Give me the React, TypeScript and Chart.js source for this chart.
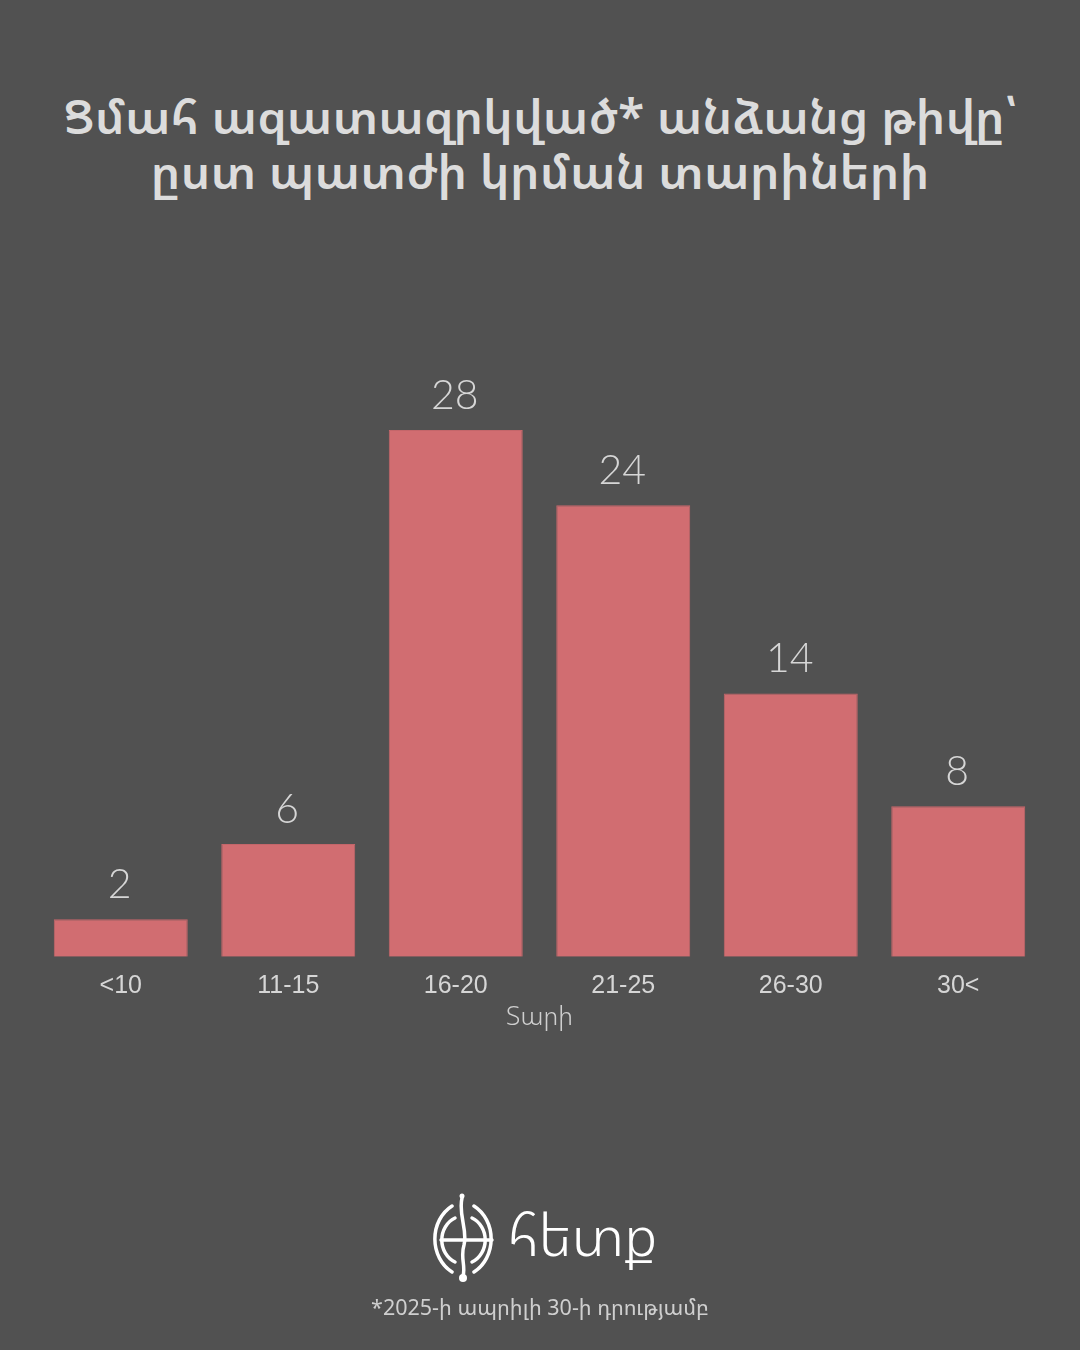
import React, { useEffect, useRef } from "react";
import { Chart, registerables } from "chart.js";

Chart.register(...registerables);

const categories = ["<10", "11-15", "16-20", "21-25", "26-30", "30<"];
const counts = [2, 6, 28, 24, 14, 8];
const titleLines = ["Ցմահ ազատազրկված* անձանց թիվը՝", "ըստ պատժի կրման տարիների"];
const axisTitle = "Տարի";
const footnote = "*2025-ի ապրիլի 30-ի դրությամբ";
const logoText = "հետք";

const BG = "#515151";
const BAR = "#d16d71";
const TEXT = "#d6d6d6";
const ARM_FONT = "'Noto Sans Armenian', 'DejaVu Sans', 'Noto Sans', sans-serif";

const valueLabels = {
  id: "valueLabels",
  afterDatasetsDraw(chart: any) {
    const { ctx } = chart;
    const meta = chart.getDatasetMeta(0);
    const data = chart.data.datasets[0].data;
    ctx.save();
    ctx.font = "300 41px Lato, 'Open Sans', sans-serif";
    ctx.fillStyle = TEXT;
    ctx.textAlign = "center";
    ctx.textBaseline = "alphabetic";
    meta.data.forEach((bar: any, i: number) => {
      ctx.fillText(String(data[i]), bar.x - 1, bar.y - 21);
    });
    ctx.restore();
  },
};

export default function App() {
  const ref = useRef<HTMLCanvasElement | null>(null);

  useEffect(() => {
    if (!ref.current) return;
    const chart = new Chart(ref.current, {
      type: "bar",
      data: {
        labels: categories,
        datasets: [
          {
            data: counts,
            backgroundColor: BAR,
            borderColor: "#c4666a",
            borderWidth: 1,
            barPercentage: 0.8,
            categoryPercentage: 1.0,
          },
        ],
      },
      options: {
        animation: false,
        responsive: true,
        maintainAspectRatio: false,
        devicePixelRatio: 1,
        layout: { padding: { top: 430, left: 37, right: 38, bottom: 317 } },
        plugins: {
          legend: { display: false },
          tooltip: { enabled: false },
          title: { display: false },
        },
        scales: {
          y: { display: false, min: 0, max: 28 },
          x: {
            grid: { display: false, drawTicks: false },
            border: { display: false },
            ticks: {
              color: TEXT,
              padding: 14,
              font: { family: "'Liberation Sans', Arial, sans-serif", size: 25 },
            },
            title: {
              display: true,
              text: axisTitle,
              color: "#cfcfcf",
              padding: { top: -13, bottom: 0 },
              font: { family: ARM_FONT, size: 26, weight: "300" as any },
            },
          },
        },
      },
      plugins: [valueLabels],
    });
    return () => chart.destroy();
  }, []);

  return (
    <div
      style={{
        position: "absolute",
        left: 0,
        top: 0,
        width: 1080,
        height: 1350,
        background: BG,
        overflow: "hidden",
      }}
    >
      <div
        style={{
          position: "absolute",
          left: 0,
          top: 88,
          width: 1080,
          textAlign: "center",
          color: "#dcdcdc",
          fontFamily: ARM_FONT,
          fontWeight: 600,
          fontSize: 48,
          lineHeight: "55px",
        }}
      >
        {titleLines.map((l, i) => (
          <div key={i}>{l}</div>
        ))}
      </div>
      <div style={{ position: "absolute", left: 0, top: 0, width: 1080, height: 1350 }}>
        <canvas ref={ref} />
      </div>
      <svg
        style={{ position: "absolute", left: 0, top: 0 }}
        width={1080}
        height={1350}
        viewBox="0 0 1080 1350"
      >
        <g fill="none" stroke="#ffffff" strokeWidth={3.5} strokeLinecap="round">
          <path d="M462 1198 C 458 1215, 468 1230, 464 1245 C 460 1258, 466 1266, 463 1276" />
          <path d="M441 1240 L 492 1240" />
          <path d="M452 1206 A 34 38 0 0 0 452 1272" />
          <path d="M474 1206 A 34 38 0 0 1 474 1272" />
          <path d="M455 1218 A 22 24 0 0 0 455 1262" />
          <path d="M472 1218 A 22 24 0 0 1 472 1262" />
        </g>
        <circle cx={462} cy={1196} r={2.5} fill="#ffffff" />
        <circle cx={463} cy={1278} r={4} fill="#ffffff" />
        <text
          x={508}
          y={1256}
          fill="#ffffff"
          fontFamily={ARM_FONT}
          fontSize={58}
          fontWeight={300}
        >
          {logoText}
        </text>
        <text
          x={540}
          y={1315}
          textAnchor="middle"
          fill="#cfcfcf"
          fontFamily={ARM_FONT}
          fontSize={21.5}
        >
          {footnote}
        </text>
      </svg>
    </div>
  );
}
